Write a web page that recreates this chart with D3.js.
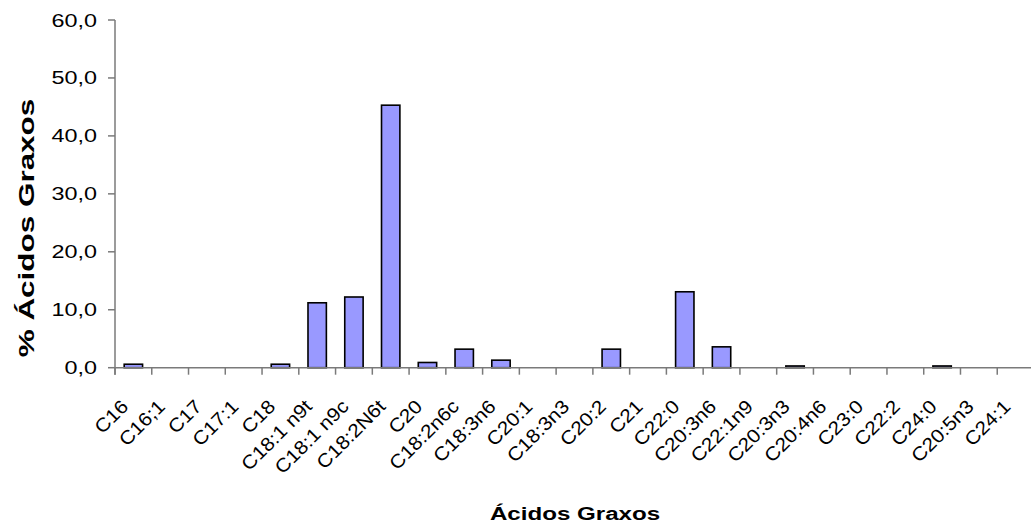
<!DOCTYPE html>
<html>
<head>
<meta charset="utf-8">
<script src="https://cdn.jsdelivr.net/npm/d3@7"></script>
<style>
  html, body { margin: 0; padding: 0; background: #fff; }
  svg { display: block; }
  text { font-family: "Liberation Sans", Arial, sans-serif; fill: #000; }
</style>
</head>
<body>
<svg id="chart" width="1031" height="525"></svg>
<script>
const categories = ["C16", "C16;1", "C17", "C17:1", "C18", "C18:1 n9t", "C18:1 n9c", "C18:2N6t",
  "C20", "C18:2n6c", "C18:3n6", "C20:1", "C18:3n3", "C20:2", "C21", "C22:0", "C20:3n6",
  "C22:1n9", "C20:3n3", "C20:4n6", "C23:0", "C22:2", "C24:0", "C20:5n3", "C24:1"];
const values = [0.6, 0, 0, 0, 0.6, 11.2, 12.2, 45.3, 0.9, 3.2, 1.3, 0, 0, 3.2, 0, 13.1, 3.6,
  0, 0.3, 0, 0, 0, 0.3, 0, 0];
const yTicks = [0, 10, 20, 30, 40, 50, 60];
const xTitle = "Ácidos Graxos";
const yTitle = "% Ácidos Graxos";

(function () {
const svg = d3.select("#chart");
const pLeft = 115, pRight = 1034, pTop = 20, pBottom = 367.7;
const axisColor = "#7a7a7a";

const x = d3.scaleBand().domain(categories).range([pLeft, pRight]).paddingInner(0).paddingOuter(0);
const y = d3.scaleLinear().domain([0, 60]).range([pBottom, pTop]);
const fmt = v => d3.format(".1f")(v).replace(".", ",");

// bars
svg.append("g").selectAll("rect").data(categories.map((c, i) => ({c, v: values[i]})).filter(d => d.v > 0))
  .join("rect")
  .attr("x", d => x(d.c) + x.bandwidth() * 0.25)
  .attr("width", x.bandwidth() * 0.5)
  .attr("y", d => y(d.v))
  .attr("height", d => y(0) - y(d.v))
  .attr("fill", "#9999ff")
  .attr("stroke", "#000")
  .attr("stroke-width", 1.6);

// y axis
const yAxis = svg.append("g");
yAxis.append("line").attr("x1", pLeft).attr("x2", pLeft).attr("y1", pTop).attr("y2", pBottom + 7)
  .attr("stroke", axisColor).attr("stroke-width", 1.5);
yAxis.selectAll("line.tick").data(yTicks).join("line").attr("class", "tick")
  .attr("x1", pLeft - 7).attr("x2", pLeft).attr("y1", d => y(d)).attr("y2", d => y(d))
  .attr("stroke", axisColor).attr("stroke-width", 1.5);
yAxis.selectAll("text").data(yTicks).join("text")
  .attr("transform", d => `translate(${pLeft - 18},${y(d) + 6.5}) scale(1.3,1)`)
  .attr("text-anchor", "end")
  .attr("font-size", 18)
  .text(fmt);

// x axis
const xAxis = svg.append("g");
xAxis.append("line").attr("x1", pLeft).attr("x2", pRight).attr("y1", pBottom).attr("y2", pBottom)
  .attr("stroke", axisColor).attr("stroke-width", 1.5);
const bounds = d3.range(categories.length + 1).map(i => pLeft + i * x.step());
xAxis.selectAll("line.tick").data(bounds).join("line").attr("class", "tick")
  .attr("x1", d => d).attr("x2", d => d).attr("y1", pBottom).attr("y2", pBottom + 7)
  .attr("stroke", axisColor).attr("stroke-width", 1.5);
xAxis.selectAll("text").data(categories).join("text")
  .attr("transform", d => `translate(${x(d) + x.bandwidth() / 2 - 4},${pBottom + 40}) rotate(-45) scale(1.1,1)`)
  .attr("text-anchor", "end")
  .attr("font-size", 19)
  .text(d => d);

// titles
svg.append("text")
  .attr("transform", `translate(575,520) scale(1.27,1)`)
  .attr("text-anchor", "middle")
  .attr("font-size", 19)
  .attr("font-weight", "bold")
  .text(xTitle);
svg.append("text")
  .attr("transform", `translate(34,228) rotate(-90) scale(1.43,1)`)
  .attr("text-anchor", "middle")
  .attr("font-size", 22)
  .attr("font-weight", "bold")
  .text(yTitle);
})();
</script>
</body>
</html>
